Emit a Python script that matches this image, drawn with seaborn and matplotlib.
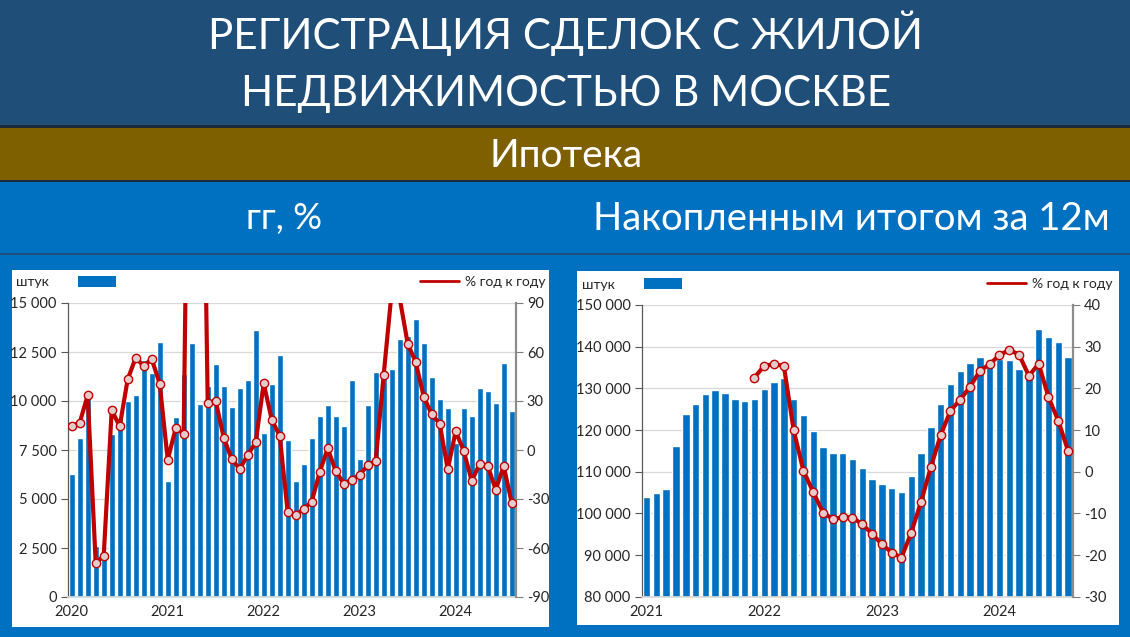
import numpy as np
import pandas as pd
import matplotlib
matplotlib.use("Agg")
import matplotlib.pyplot as plt
from matplotlib.patches import Rectangle, Patch
from matplotlib.lines import Line2D
from matplotlib.ticker import FuncFormatter, FixedLocator
import seaborn as sns

# ---------------- data ----------------
months_left = [str(p) for p in pd.period_range("2020-01", "2024-08", freq="M")]
deals_left = [6300, 8100, 10250, 2600, 2150, 8300, 9150, 10000, 10300, 12100,
              11450, 13000, 5900, 9200, 11400, 12950, 9850, 10750, 11900, 10750,
              9700, 10650, 11050, 13600, 8350, 10850, 12350, 8000, 5900, 6800,
              8100, 9250, 9800, 9250, 8750, 11050, 7050, 9800, 11500, 11600,
              11650, 13150, 13300, 14200, 12950, 11250, 10100, 9650, 7850, 9650,
              9250, 10650, 10500, 9900, 11950, 9500]
yoy_left = [14.7, 16.7, 33.5, -69.2, -64.9, 24.3, 14.5, 43.3, 56.5, 51.4,
            55.7, 40.6, -5.9, 13.3, 10.0, 398, 358, 29.0, 30.0, 7.6,
            -5.7, -11.6, -3.1, 4.7, 40.8, 18.6, 8.6, -38.0, -39.6, -36.3,
            -31.6, -13.5, 1.0, -12.9, -20.6, -18.2, -15.1, -9.4, -6.5, 46.1,
            97, 93, 65.1, 53.9, 32.7, 21.8, 16.1, -11.8, 11.4, -0.4,
            -19.0, -8.4, -9.6, -24.3, -9.8, -32.4]
years_left = ["2020", "2021", "2022", "2023", "2024"]

months_right = [str(p) for p in pd.period_range("2021-01", "2024-08", freq="M")]
deals_right = [103840, 104800, 105800, 116200, 123800, 126200, 128700, 129500, 128900, 127400,
               127000, 127500, 129900, 131600, 132600, 127500, 123600, 119800, 115900, 114500,
               114500, 113100, 110800, 108300, 107100, 106100, 105100, 108900, 114600, 120800,
               126200, 131000, 134200, 136200, 137600, 136300, 137000, 136700, 134700, 133800,
               144200, 142400, 141100, 137500]
months_right_yoy = months_right[11:]
yoy_right = [22.6, 25.4, 25.8, 25.4, 10.0, 0.2, -4.9, -9.8, -11.4, -10.9,
             -11.0, -12.6, -14.9, -17.4, -19.4, -20.6, -14.6, -7.2, 1.1, 8.8,
             14.6, 17.3, 20.4, 24.2, 25.8, 28.0, 29.2, 28.1, 23.0, 25.9,
             17.9, 12.2, 5.0]
years_right = ["2021", "2022", "2023", "2024"]

title_lines = ["РЕГИСТРАЦИЯ СДЕЛОК С ЖИЛОЙ", "НЕДВИЖИМОСТЬЮ В МОСКВЕ"]
subtitle = "Ипотека"
left_head = "гг, %"
right_head = "Накопленным итогом за 12м"
unit_label = "штук"
line_label = "% год к году"

# ---------------- style ----------------
sns.set_theme(style="white")
FONT = ["Lato", "Noto Sans", "DejaVu Sans"]
plt.rcParams["font.family"] = FONT

W, H = 1130, 637
BLUE = "#0070C0"
RED = "#C00000"
TXT = "#262626"

def fx(px):
    return px / W

def fy(py):
    return 1 - py / H

fig = plt.figure(figsize=(W / 100, H / 100), dpi=100, facecolor=BLUE)

def band(y0, y1, color, z=0):
    fig.add_artist(Rectangle((0, fy(y1)), 1, (y1 - y0) / H, transform=fig.transFigure,
                             facecolor=color, edgecolor="none", zorder=z))

band(0, 125, "#1F4E79")
band(125, 127.5, "#1A2A3A", 1)
band(127.5, 180, "#7F6000")
band(180, 182.5, "#1A2A3A", 1)
band(182.5, 253, BLUE)
band(253, 255, "#1F4E79", 1)

fig.text(fx(566), fy(33), title_lines[0], color="white", fontsize=30.3, ha="center", va="center")
fig.text(fx(566), fy(94), title_lines[1], color="white", fontsize=30.3, ha="center", va="center")
fig.text(fx(566), fy(156), subtitle, color="white", fontsize=28, ha="center", va="center")
fig.text(fx(284), fy(219), left_head, color="white", fontsize=26, ha="center", va="center")
fig.text(fx(851), fy(219), right_head, color="white", fontsize=27.5, ha="center", va="center")

# white panels
fig.add_artist(Rectangle((fx(12), fy(627)), (549 - 12) / W, (627 - 270) / H,
                         transform=fig.transFigure, facecolor="white", edgecolor="none", zorder=0))
fig.add_artist(Rectangle((fx(577), fy(625)), (1119 - 577) / W, (625 - 271) / H,
                         transform=fig.transFigure, facecolor="white", edgecolor="none", zorder=0))

def thousands(v, pos):
    return f"{int(round(v)):,}".replace(",", " ")

def make_panel(rect, months, deals, yoy_months, yoy, years, ylim, yticks, y2lim, y2ticks,
               unit_xy, patch_xy, line_anchor):
    ax = fig.add_axes(rect)
    ax.set_facecolor("none")
    df = pd.DataFrame({"month": months, "deals": deals})
    sns.barplot(data=df, x="month", y="deals", ax=ax, color=BLUE, saturation=1,
                width=0.76, zorder=2)
    ax.set_xlim(-0.5, len(months) - 0.5)
    ax.set_ylim(*ylim)
    ax.yaxis.set_major_locator(FixedLocator(yticks))
    ax.yaxis.set_major_formatter(FuncFormatter(thousands))
    ax.grid(axis="y", color="#D9D9D9", linewidth=0.9, zorder=0)
    ax.set_axisbelow(True)
    ax.set_xticks([months.index(y + "-01") for y in years])
    ax.set_xticklabels(years)
    ax.tick_params(axis="x", length=0, labelsize=10.5, colors=TXT, pad=6)
    ax.tick_params(axis="y", length=5, width=0.8, labelsize=10.5, colors=TXT, pad=3,
                   left=True, color="#595959")
    ax.set_xlabel("")
    ax.set_ylabel("")
    for s in ["top", "right"]:
        ax.spines[s].set_visible(False)
    ax.spines["left"].set_color("#595959")
    ax.spines["left"].set_linewidth(0.9)
    ax.spines["bottom"].set_color("#D9D9D9")

    ax2 = ax.twinx()
    ydf = pd.DataFrame({"pos": [months.index(m) for m in yoy_months], "yoy": yoy})
    sns.lineplot(data=ydf, x="pos", y="yoy", ax=ax2, color=RED, linewidth=3.0,
                 marker="o", markersize=6, markerfacecolor="#E3CCCC",
                 markeredgecolor=RED, markeredgewidth=1.0, zorder=3)
    ax2.set_xlim(-0.5, len(months) - 0.5)
    ax2.set_ylim(*y2lim)
    ax2.yaxis.set_major_locator(FixedLocator(y2ticks))
    ax2.yaxis.set_major_formatter(FuncFormatter(lambda v, p: f"{int(v)}"))
    ax2.tick_params(axis="y", length=5, width=0.8, labelsize=10.5, colors=TXT, pad=3,
                    right=True, color="#7F7F7F")
    ax2.set_xlabel("")
    ax2.set_ylabel("")
    for s in ["top", "left", "bottom"]:
        ax2.spines[s].set_visible(False)
    ax2.spines["right"].set_color("#8C8C8C")
    ax2.spines["right"].set_linewidth(1.6)

    fig.text(fx(unit_xy[0]), fy(unit_xy[1]), unit_label, fontsize=10, color=TXT,
             ha="left", va="center")
    ax.legend(handles=[Patch(facecolor=BLUE, edgecolor="none")], labels=[""],
              loc="upper left", bbox_to_anchor=(fx(patch_xy[0]), fy(patch_xy[1])),
              bbox_transform=fig.transFigure, frameon=False, fontsize=10,
              handlelength=2.75, handleheight=0.8, handletextpad=0, borderpad=0,
              borderaxespad=0)
    leg2 = ax2.legend(handles=[Line2D([], [], color=RED, linewidth=2.0)], labels=[line_label],
                      loc="upper right", bbox_to_anchor=(fx(line_anchor[0]), fy(line_anchor[1])),
                      bbox_transform=fig.transFigure, frameon=False, fontsize=10,
                      handlelength=2.8, handletextpad=0.5, borderpad=0, borderaxespad=0)
    for t in leg2.get_texts():
        t.set_color(TXT)
    return ax, ax2

make_panel([fx(67.7), fy(597), 448 / W, 294 / H], months_left, deals_left,
           months_left, yoy_left, years_left, (0, 15000),
           [0, 2500, 5000, 7500, 10000, 12500, 15000], (-90, 90),
           [-90, -60, -30, 0, 30, 60, 90], (16, 282), (78, 276), (546, 276))

make_panel([fx(641.7), fy(596.7), 431.3 / W, 291.7 / H], months_right, deals_right,
           months_right_yoy, yoy_right, years_right, (80000, 150000),
           [80000, 90000, 100000, 110000, 120000, 130000, 140000, 150000], (-30, 40),
           [-30, -20, -10, 0, 10, 20, 30, 40], (582, 285), (644, 278), (1113, 278))

fig.savefig("out.png", dpi=100, facecolor=BLUE)
